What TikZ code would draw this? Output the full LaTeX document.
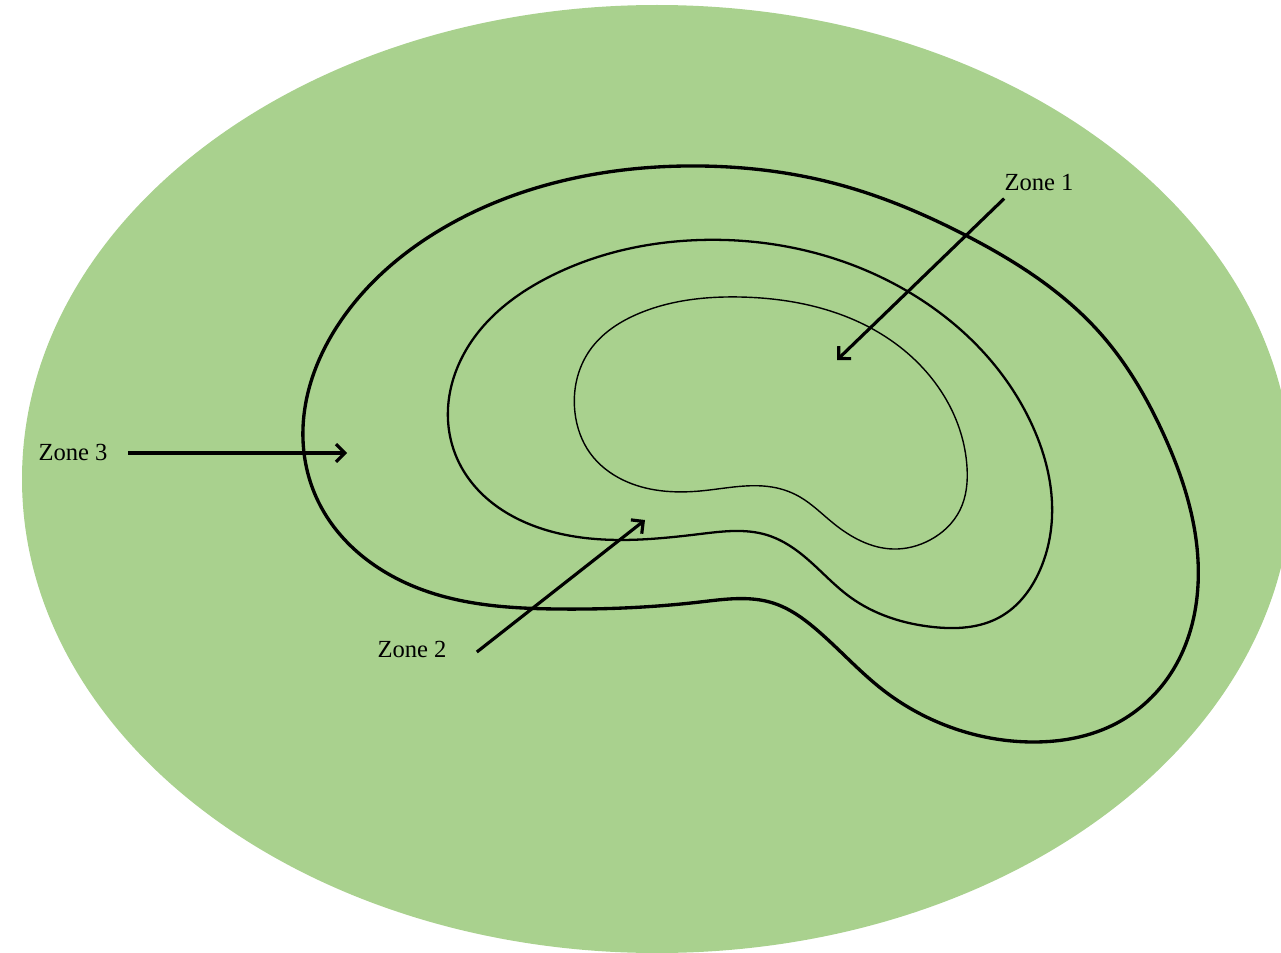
\documentclass[tikz,border=0pt]{standalone}
\usepackage{fontspec}
\setmainfont{Liberation Serif}
\usetikzlibrary{arrows.meta,hobby}
\definecolor{zonegreen}{HTML}{A9D18E}
\tikzset{
  zonelabel/.style={inner sep=0pt,font=\fontsize{14}{16}\selectfont},
  zonearrow/.style={-{Straight Barb[length=5pt,width=10pt]},line width=1.8pt}
}

\begin{document}
\begin{tikzpicture}[x=0.02cm,y=-0.02cm]
  \useasboundingbox (0,0) rectangle (1281,953);
  \clip (0,0) rectangle (1281,953);
  \fill[zonegreen] (657,479) ellipse [x radius=635, y radius=474];

  % zone boundaries
  \draw[line width=1.9pt] plot[closed hobby] coordinates {(303,440) (340,322) (440,230) (590,175) (700,166) (833,183) (967,236) (1100,333) (1163,433) (1198,585) (1173,670) (1117,723) (1033,742) (950,727) (883,690) (817,630) (773,603) (700,602) (557,609) (423,590) (320,505)};
  \draw[line width=1.3pt] plot[closed hobby] coordinates {(448,420) (480,330) (547,278) (700,240) (900,287) (1033,427) (1052,517) (1040,570) (1000,617) (933,627) (850,597) (800,553) (767,535) (700,534) (557,533) (463,470)};
  \draw[line width=0.8pt] plot[closed hobby] coordinates {(575,413) (590,350) (640,313) (740,297) (900,347) (967,467) (960,510) (930,540) (893,549) (833,523) (800,497) (777,488) (700,491) (623,480) (590,453)};

  % labels
  \node[zonelabel] (z1) at (1039,182) {Zone 1};
  \node[zonelabel] (z2) at (412,649) {Zone 2};
  \node[zonelabel] (z3) at (73,452) {Zone 3};
  \coordinate (t1) at (837,360);
  \coordinate (t2) at (645,520);
  \coordinate (t3) at (347,453);
  \draw[zonearrow] ([shift={(0,8)}]z1.south west) -- (t1);
  \draw[zonearrow] ([shift={(30,3)}]z2.east) -- (t2);
  \draw[zonearrow] ([shift={(20,1)}]z3.east) -- (t3);
\end{tikzpicture}
\end{document}
